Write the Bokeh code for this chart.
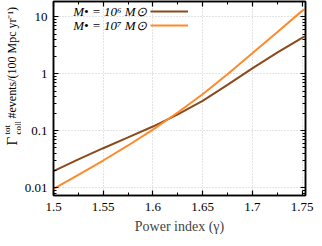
import math
from bokeh.plotting import figure
from bokeh.layouts import row
from bokeh.models import (Legend, LegendItem, Label, LinearAxis, LogAxis,
                          LogTicker, SingleIntervalTicker, NumeralTickFormatter,
                          CustomJSTickFormatter, Range1d)
from bokeh.embed import file_html
from bokeh.resources import INLINE

# ---- data ----
gamma = [1.5, 1.525, 1.55, 1.575, 1.6, 1.625, 1.65, 1.675, 1.7, 1.725, 1.75, 1.7535]
rate_1e6 = [0.0196, 0.0315, 0.0495, 0.0767, 0.119, 0.195, 0.337, 0.641, 1.25, 2.36, 4.29, 4.62]
rate_1e7 = [0.0096, 0.0169, 0.0301, 0.0553, 0.105, 0.210, 0.440, 0.984, 2.31, 5.41, 12.8, 13.8]
series_labels = ["M\u2022 = 10\u2076 M\u2299", "M\u2022 = 10\u2077 M\u2299"]
series_colors = ["#8B4A1C", "#FF8A2B"]
x_title = "Power index (\u03b3)"
y_title_parts = ["\u0393", "tot", "coll", "#events/(100 Mpc yr\u207b\u00b9)"]

SERIF = "Liberation Serif"
H = 238

# ---- narrow strip holding the rotated y-axis title ----
lab = figure(width=21, height=H, output_backend="svg", toolbar_location=None,
             x_axis_location=None, y_axis_location=None, min_border=0,
             x_range=Range1d(0, 1), y_range=Range1d(0, 1))
lab.outline_line_color = None
lab.grid.grid_line_color = None

half_pi = math.pi / 2
# (x, y) in pixels from the strip's bottom-left corner, font size
ylab_pos = [(11, 50, "15px"), (6, 61, "9px"), (17, 61, "9px"), (11, 77, "12px")]
for txt, (x, y, fs) in zip(y_title_parts, ylab_pos):
    lab.add_layout(Label(x=x, y=y, x_units="screen", y_units="screen", text=txt,
                         angle=half_pi, text_font=SERIF, text_font_size=fs,
                         text_align="left", text_baseline="alphabetic",
                         text_color="black"))

# ---- main plot ----
p = figure(width=293, height=H, output_backend="svg", toolbar_location=None,
           y_axis_type="log",
           x_range=Range1d(1.5, 1.7535), y_range=Range1d(0.00731, 18.7),
           min_border_left=31, min_border_right=9, min_border_top=1,
           min_border_bottom=43)

p.outline_line_color = "black"
p.outline_line_width = 1.5
p.background_fill_color = "white"

xticker = SingleIntervalTicker(interval=0.05, num_minor_ticks=2)
yticker = LogTicker(mantissas=[1], desired_num_ticks=4, num_minor_ticks=10)

for ax in p.xaxis:
    ax.ticker = xticker
for ax in p.yaxis:
    ax.ticker = yticker
    ax.formatter = NumeralTickFormatter(format="0.[00]")

def style_axis(ax, show_labels=True):
    ax.axis_line_color = "black"
    ax.axis_line_width = 1.5
    ax.major_tick_in = 5
    ax.major_tick_out = 0
    ax.minor_tick_in = 3
    ax.minor_tick_out = 0
    ax.major_tick_line_color = "black"
    ax.minor_tick_line_color = "black"
    ax.major_tick_line_width = 1.2
    ax.minor_tick_line_width = 1
    ax.major_label_text_font = SERIF
    ax.major_label_text_color = "black"
    ax.major_label_text_font_size = "13px"
    if show_labels:
        ax.major_label_standoff = 6
    else:
        ax.formatter = CustomJSTickFormatter(code="return ''")
        ax.major_label_standoff = 0

style_axis(p.xaxis[0])
style_axis(p.yaxis[0])
p.xaxis.axis_label = x_title
p.xaxis.axis_label_text_font = SERIF
p.xaxis.axis_label_text_font_size = "14px"
p.xaxis.axis_label_text_font_style = "normal"
p.xaxis.axis_label_standoff = 5
p.xaxis.major_label_standoff = 7

top_ax = LinearAxis(ticker=xticker)
style_axis(top_ax, show_labels=False)
p.add_layout(top_ax, "above")
right_ax = LogAxis(ticker=yticker)
style_axis(right_ax, show_labels=False)
p.add_layout(right_ax, "right")

p.xgrid.ticker = xticker
p.ygrid.ticker = yticker
for g in (p.xgrid[0], p.ygrid[0]):
    g.grid_line_color = "#c8c8c8"
    g.grid_line_dash = "1 2"
    g.grid_line_width = 1

r1 = p.line(gamma, rate_1e6, line_color=series_colors[0], line_width=2)
r2 = p.line(gamma, rate_1e7, line_color=series_colors[1], line_width=2)

legend = Legend(items=[LegendItem(label=" ", renderers=[r1]),
                       LegendItem(label=" ", renderers=[r2])],
                location=(97, 164), orientation="vertical",
                glyph_width=38, glyph_height=12, label_height=12, label_width=0,
                label_standoff=0, label_text_font_size="1px",
                spacing=2, padding=0, margin=0,
                border_line_alpha=0, background_fill_alpha=0)
p.add_layout(legend)

for i, txt in enumerate(series_labels):
    p.add_layout(Label(x=93, y=184 - 14 * i, x_units="screen", y_units="screen",
                       text=txt, text_font=SERIF, text_font_size="13px",
                       text_font_style="italic",
                       text_align="right", text_baseline="middle",
                       text_color="black"))

layout = row(lab, p, spacing=0)
open("out.html", "w").write(file_html(layout, INLINE))
